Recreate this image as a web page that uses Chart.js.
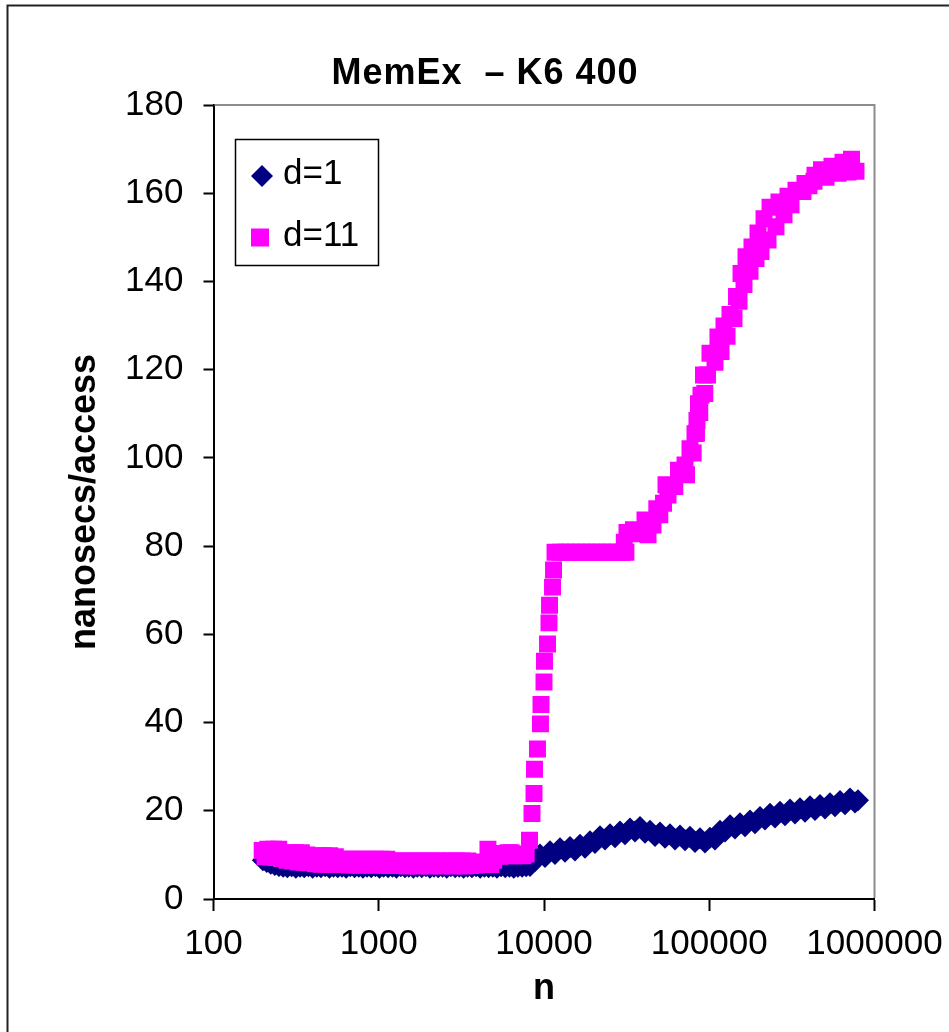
<!DOCTYPE html>
<html>
<head>
<meta charset="utf-8">
<script src="https://cdn.jsdelivr.net/npm/chart.js@4"></script>
<style>
  html, body { margin: 0; padding: 0; background: #fff; }
  canvas { display: block; }
</style>
</head>
<body>
<canvas id="memexChart" width="949" height="1032"></canvas>
<script>
// MemEx on a K6 400: access time against working-set size n
const chartTitle = "MemEx  \u2013 K6 400";
const xTicks = [100, 1000, 10000, 100000, 1000000];
const yMax = 180;
const yStep = 20;

// d=1 run
const n1 = [
  199, 210, 222, 235, 249, 264, 280, 297, 315, 334,
  354, 375, 398, 422, 447, 474, 503, 533, 565, 599,
  635, 673, 714, 757, 802, 850, 901, 955, 1010, 1070,
  1140, 1210, 1280, 1360, 1440, 1520, 1620, 1710, 1820, 1930,
  2040, 2160, 2290, 2430, 2580, 2730, 2900, 3070, 3260, 3450,
  3660, 3880, 4110, 4360, 4620, 4900, 5190, 5500, 5830, 6180,
  6560, 6950, 7370, 7800,
  8229, 8822, 9458, 10140, 10870, 11660, 12500, 13400, 14370, 15400,
  16520, 17700, 18980, 20350, 21830, 23390, 25080, 26900, 28830, 30920,
  33150, 35540, 38100, 40850, 43800, 46960, 50350, 53980, 57880, 62050,
  66530, 71340, 76450, 81980, 87900, 94250, 101000, 108300, 116200, 124600,
  133600, 143200, 153500, 164600, 176500, 189200, 202800, 217500, 233200, 250000,
  268000, 287400, 308200, 330300, 354200, 379700, 407100, 436400, 468000, 501800,
  538000, 576800, 618400, 663000, 710800, 762100, 794800
];
const t1 = [
  8.8, 8.4, 8.0, 7.7, 7.5, 7.3, 7.2, 7.4, 7.1, 7.3,
  7.2, 7.4, 7.1, 7.3, 7.2, 7.4, 7.1, 7.3, 7.2, 7.3,
  7.1, 7.4, 7.2, 7.3, 7.1, 7.3, 7.2, 7.4, 7.1, 7.3,
  7.2, 7.3, 7.1, 7.4, 7.2, 7.3, 7.1, 7.3, 7.2, 7.4,
  7.1, 7.3, 7.2, 7.3, 7.1, 7.4, 7.2, 7.3, 7.1, 7.3,
  7.2, 7.4, 7.1, 7.3, 7.2, 7.3, 7.1, 7.4, 7.2, 7.3,
  7.1, 7.3, 7.3, 7.4,
  7.5, 8.6, 10.1, 9.5, 10.8, 10.2, 11.5, 10.7, 11.8, 11.0,
  12.3, 11.6, 13.1, 12.7, 14.2, 13.5, 14.7, 14.0, 15.3, 14.7,
  16.0, 15.3, 16.3, 15.0, 15.5, 14.3, 15.1, 13.9, 14.7, 13.5,
  14.4, 13.3, 14.1, 12.9, 13.8, 12.8, 13.9, 13.5, 15.5, 15.3,
  16.7, 16.0, 17.2, 16.5, 17.8, 17.2, 18.6, 18.0, 19.3, 18.5,
  19.8, 19.0, 20.3, 19.4, 20.6, 19.8, 21.0, 20.2, 21.3, 20.5,
  21.7, 21.0, 22.2, 21.5, 22.8, 21.9, 22.4
];

// d=11 run
const n11 = [
  197, 205, 213, 222, 231, 240, 248, 258, 268, 279,
  290, 302, 314, 327, 340, 354, 368, 383, 398, 414,
  431, 448, 466, 485, 505, 525, 546, 568, 590, 615,
  640, 665, 690, 720, 750, 780, 810, 845, 880, 915,
  950, 990, 1030, 1075, 1120, 1165, 1210, 1260, 1310, 1365,
  1420, 1480, 1540, 1600, 1670, 1740, 1810, 1880, 1960, 2040,
  2120, 2210, 2300, 2400, 2500, 2600, 2710, 2820, 2940, 3060,
  3190, 3320, 3460, 3600, 3750, 3900, 4060, 4230, 4400, 4580,
  4770, 4960, 5170, 5380, 5600, 5830, 6070, 6320, 6580, 6850,
  7150, 7450, 7800, 8170, 8460, 8700, 8760, 9130, 9520, 9590,
  10000, 10070, 10500, 10720, 10800, 11260, 11420, 11660, 12500, 13500,
  14500, 15600, 16800, 18000, 19400, 20800, 22400, 24000, 25800, 27700,
  29800, 30600, 31300, 31780, 34800, 38100, 40850, 42600, 45650, 48150,
  50220, 52860, 54740, 56290, 61870, 65160, 71340, 72850, 76450, 79930,
  81960, 83690, 84270, 86050, 87630, 89130, 92290, 93970, 97590, 101000,
  108300, 112900, 117800, 122800, 128100, 133500, 141200, 146200, 151400, 155700,
  162300, 166900, 176500, 181400, 191800, 197200, 205600, 214500, 226800, 233200,
  253400, 264200, 283400, 299600, 312400, 334900, 369100, 379600, 401300, 430300,
  436300, 477800, 508700, 552900, 601200, 644600, 691000, 725700, 772700
];
const t11 = [
  11.0, 9.6, 11.3, 9.5, 11.3, 9.4, 11.3, 9.2, 10.3, 8.8,
  10.5, 8.6, 10.5, 8.4, 10.5, 8.3, 10.0, 8.2, 9.6, 8.0,
  9.8, 7.9, 9.8, 7.9, 9.8, 7.8, 9.6, 7.8, 9.0, 7.8,
  9.0, 7.7, 9.0, 7.7, 9.0, 7.7, 9.0, 7.7, 9.0, 7.7,
  9.0, 7.7, 9.0, 7.7, 9.0, 7.6, 8.6, 7.6, 8.6, 7.6,
  8.6, 7.5, 8.6, 7.6, 8.6, 7.5, 8.6, 7.6, 8.6, 7.5,
  8.6, 7.6, 8.6, 7.5, 8.6, 7.6, 8.6, 7.5, 8.6, 7.6,
  8.6, 7.5, 8.6, 7.6, 8.4, 7.7, 8.2, 7.8, 8.0, 11.3,
  7.8, 8.8, 10.2, 9.7, 10.3, 9.8, 10.5, 10.5, 9.8, 10.1,
  10.0, 9.8, 10.2, 13.3, 19.4, 23.9, 29.4, 34.0, 39.7, 44.1,
  49.2, 53.9, 57.8, 62.6, 66.6, 70.7, 74.6, 78.6, 78.6, 78.6,
  78.6, 78.6, 78.6, 78.6, 78.6, 78.6, 78.6, 78.6, 78.6, 78.6,
  78.6, 80.9, 78.6, 83.1, 83.7, 82.8, 85.9, 82.6, 84.8, 88.5,
  87.1, 89.7, 93.9, 91.6, 93.5, 97.2, 98.4, 96.2, 102.1, 101.1,
  105.5, 105.6, 108.5, 112.3, 110.3, 114.2, 118.8, 114.6, 118.8, 123.7,
  121.7, 127.4, 124.1, 129.9, 127.6, 132.5, 131.6, 136.6, 135.5, 141.8,
  139.3, 145.6, 142.3, 147.8, 145.2, 151.0, 146.8, 154.2, 149.4, 156.8,
  152.4, 158.0, 155.1, 159.3, 157.4, 160.7, 160.4, 162.2, 161.7, 162.7,
  164.1, 165.3, 163.6, 166.1, 164.5, 167.0, 164.8, 167.7, 165.0
];

const FONT = '"Liberation Sans", Arial, sans-serif';
const NAVY = "#000080";
const MAGENTA = "#ff00ff";

const toPoints = (xs, ys) => xs.map((x, i) => ({ x: x, y: ys[i] }));

// Excel-style frame, title and boxed legend
const excelDecor = {
  id: "excelDecor",
  beforeDraw(chart) {
    const ctx = chart.ctx;
    ctx.save();
    ctx.fillStyle = "#fff";
    ctx.fillRect(0, 0, chart.width, chart.height);
    ctx.restore();
  },
  beforeDatasetsDraw(chart) {
    const { ctx, chartArea: a } = chart;
    ctx.save();
    ctx.strokeStyle = "#8c8c8c";
    ctx.lineWidth = 2;
    ctx.beginPath();
    ctx.moveTo(a.left + 1, a.top);
    ctx.lineTo(a.right, a.top);
    ctx.lineTo(a.right, a.bottom - 1);
    ctx.stroke();
    ctx.restore();
  },
  afterDraw(chart) {
    const ctx = chart.ctx;
    ctx.save();

    // outer chart border
    ctx.strokeStyle = "#222";
    ctx.lineWidth = 2;
    ctx.beginPath();
    ctx.moveTo(7.5, chart.height);
    ctx.lineTo(7.5, 5.5);
    ctx.lineTo(chart.width, 5.5);
    ctx.stroke();

    // title
    ctx.fillStyle = "#000";
    ctx.font = "bold 36px " + FONT;
    ctx.letterSpacing = "1px";
    ctx.textAlign = "center";
    ctx.textBaseline = "alphabetic";
    ctx.fillText(chartTitle, 485, 84);
    ctx.letterSpacing = "0px";

    // legend box
    ctx.fillStyle = "#fff";
    ctx.fillRect(235.5, 139.5, 143, 126);
    ctx.strokeStyle = "#000";
    ctx.lineWidth = 1.5;
    ctx.strokeRect(235.5, 139.5, 143, 126);

    const ds = chart.data.datasets;
    // d=1 diamond
    ctx.fillStyle = ds[0].backgroundColor;
    ctx.beginPath();
    ctx.moveTo(262, 165);
    ctx.lineTo(273, 176);
    ctx.lineTo(262, 187);
    ctx.lineTo(251, 176);
    ctx.closePath();
    ctx.fill();
    // d=11 square
    ctx.fillStyle = ds[1].backgroundColor;
    ctx.fillRect(251, 228.5, 18, 18);

    ctx.fillStyle = "#000";
    ctx.font = "35px " + FONT;
    ctx.textAlign = "left";
    ctx.fillText(ds[0].label, 283, 184);
    ctx.fillText(ds[1].label, 283, 246);
    ctx.restore();
  }
};

new Chart(document.getElementById("memexChart"), {
  type: "scatter",
  data: {
    datasets: [
      {
        label: "d=1",
        data: toPoints(n1, t1),
        backgroundColor: NAVY,
        borderColor: NAVY,
        pointStyle: "rectRot",
        pointRadius: 11,
        pointBorderWidth: 0,
        order: 1
      },
      {
        label: "d=11",
        data: toPoints(n11, t11),
        backgroundColor: MAGENTA,
        borderColor: MAGENTA,
        pointStyle: "rect",
        pointRadius: 12,
        pointBorderWidth: 0,
        order: 0
      }
    ]
  },
  options: {
    responsive: false,
    animation: false,
    devicePixelRatio: 1,
    layout: { padding: { left: 45, right: 74.5, top: 105, bottom: 0 } },
    plugins: {
      legend: { display: false },
      title: { display: false },
      tooltip: { enabled: false }
    },
    scales: {
      x: {
        type: "logarithmic",
        min: xTicks[0],
        max: xTicks[xTicks.length - 1],
        afterBuildTicks: axis => { axis.ticks = xTicks.map(v => ({ value: v })); },
        afterFit: axis => {
          axis.height = 133;
          axis.paddingLeft = 0;
          axis.paddingRight = 0;
        },
        ticks: {
          color: "#000",
          font: { family: FONT, size: 35 },
          padding: 12,
          maxRotation: 0,
          autoSkip: false,
          callback: v => String(v)
        },
        grid: { drawOnChartArea: false, drawTicks: true, tickLength: 12, tickWidth: 2, color: "#000" },
        border: { display: true, color: "#000", width: 2 },
        title: {
          display: true,
          text: "n",
          color: "#000",
          font: { family: FONT, size: 36, weight: "bold" },
          padding: { top: 0, bottom: 21 }
        }
      },
      y: {
        min: 0,
        max: yMax,
        afterFit: axis => { axis.width = 168.5; },
        ticks: {
          stepSize: yStep,
          color: "#000",
          font: { family: FONT, size: 35 },
          padding: 20
        },
        grid: { drawOnChartArea: false, drawTicks: true, tickLength: 10, tickWidth: 2, color: "#000" },
        border: { display: true, color: "#000", width: 2 },
        title: {
          display: true,
          text: "nanosecs/access",
          color: "#000",
          font: { family: FONT, size: 36, weight: "bold" },
          padding: { top: 18, bottom: 0 }
        }
      }
    }
  },
  plugins: [excelDecor]
});
</script>
</body>
</html>
